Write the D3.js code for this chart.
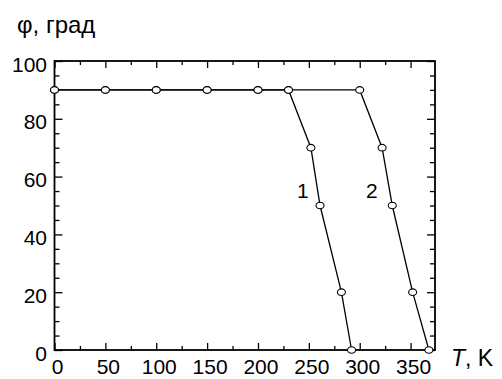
<!DOCTYPE html>
<html>
<head>
<meta charset="utf-8">
<script src="https://cdn.jsdelivr.net/npm/d3@7"></script>
<style>
body { margin:0; background:#fff; }
svg text { font-family: "Liberation Sans", Arial, sans-serif; fill:#000; }
</style>
</head>
<body>
<svg id="chart" width="502" height="379"></svg>
<script>
// data
var t1 = [0, 50, 100, 150, 200, 230, 252, 261, 282, 292];
var phi1 = [90, 90, 90, 90, 90, 90, 70, 50, 20, 0];
var t2 = [0, 50, 100, 150, 200, 230, 300, 322, 332, 352, 368];
var phi2 = [90, 90, 90, 90, 90, 90, 90, 70, 50, 20, 0];
var xTicks = [0, 50, 100, 150, 200, 250, 300, 350];
var yTicks = [0, 20, 40, 60, 80, 100];

var svg = d3.select("#chart");
var x = d3.scaleLinear().domain([0, 374]).range([54.5, 435]);
var y = d3.scaleLinear().domain([0, 100]).range([350, 61]);

var minorX = d3.range(0, 375, 25);
var minorY = d3.range(0, 101, 5);

// ticks pointing inward, long ones on labelled values
function drawTicks(axisFn, scale, vals, majors, len, tr) {
    var g = svg.append("g").attr("transform", tr);
    g.call(axisFn(scale).tickValues(vals).tickFormat("").tickSizeOuter(0)
        .tickSizeInner(0));
    g.select(".domain").remove();
    g.selectAll(".tick line").each(function(d) {
        var l = majors.indexOf(d) >= 0 ? len[0] : len[1];
        var el = d3.select(this);
        if (axisFn === d3.axisBottom) el.attr("y2", -l);
        if (axisFn === d3.axisTop) el.attr("y2", l);
        if (axisFn === d3.axisLeft) el.attr("x2", l);
        if (axisFn === d3.axisRight) el.attr("x2", -l);
    }).attr("stroke", "#000").attr("stroke-width", 1.3);
}
drawTicks(d3.axisBottom, x, minorX, xTicks, [7, 4], "translate(0,350)");
drawTicks(d3.axisTop, x, minorX, xTicks, [7, 4], "translate(0,61)");
drawTicks(d3.axisLeft, y, minorY, yTicks, [8, 5], "translate(54.5,0)");
drawTicks(d3.axisRight, y, minorY, yTicks, [8, 5], "translate(435,0)");

// frame
svg.append("rect")
    .attr("x", x(0)).attr("y", y(100))
    .attr("width", x(374) - x(0)).attr("height", y(0) - y(100))
    .attr("fill", "none").attr("stroke", "#000").attr("stroke-width", 1.8);

// tick labels
svg.selectAll(".xl").data(xTicks).enter().append("text")
    .attr("x", function(d) { return x(d) + 3; })
    .attr("y", 374)
    .attr("text-anchor", "middle")
    .style("font-size", "21px")
    .text(function(d) { return d; });

svg.selectAll(".yl").data(yTicks).enter().append("text")
    .attr("x", 47)
    .attr("y", function(d) { return y(d) + 10.5; })
    .attr("text-anchor", "end")
    .style("font-size", "21px")
    .text(function(d) { return d; });

// axis captions
svg.append("text").attr("x", 17).attr("y", 33)
    .style("font-size", "24px").text("φ, град");
var tc = svg.append("text").attr("x", 451).attr("y", 366).style("font-size", "23px");
tc.append("tspan").style("font-style", "italic").text("T");
tc.append("tspan").text(", K");

// curves
var line = d3.line().x(function(d) { return x(d[0]); }).y(function(d) { return y(d[1]); });
[[t1, phi1], [t2, phi2]].forEach(function(s) {
    var pts = s[0].map(function(v, i) { return [v, s[1][i]]; });
    svg.append("path").datum(pts)
        .attr("d", line)
        .attr("fill", "none").attr("stroke", "#000").attr("stroke-width", 1.3);
});
[[t1, phi1], [t2, phi2]].forEach(function(s) {
    var pts = s[0].map(function(v, i) { return [v, s[1][i]]; });
    svg.append("g").selectAll("ellipse").data(pts).enter().append("ellipse")
        .attr("cx", function(d) { return x(d[0]); })
        .attr("cy", function(d) { return y(d[1]); })
        .attr("rx", 4).attr("ry", 3.3)
        .attr("fill", "#fff").attr("stroke", "#000").attr("stroke-width", 1.1);
});

// curve numbers
svg.append("text").attr("x", 297).attr("y", 198).style("font-size", "21px").text("1");
svg.append("text").attr("x", 366).attr("y", 198).style("font-size", "21px").text("2");
</script>
</body>
</html>
